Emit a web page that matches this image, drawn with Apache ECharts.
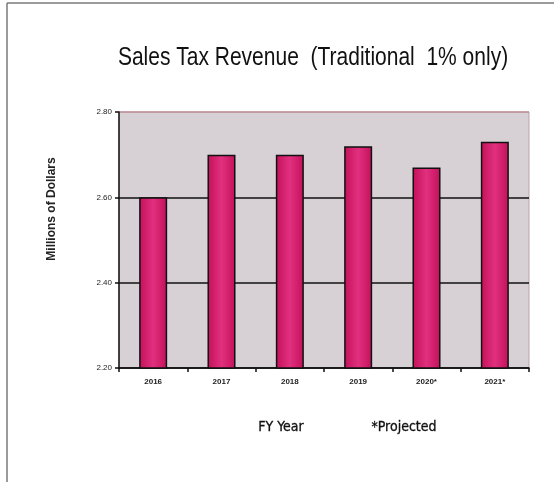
<!DOCTYPE html>
<html>
<head>
<meta charset="utf-8">
<script src="https://cdn.jsdelivr.net/npm/echarts@6/dist/echarts.min.js"></script>
<style>
  html, body { margin: 0; padding: 0; background: #ffffff; }
  #chart { width: 554px; height: 482px; }
</style>
</head>
<body>
<div id="chart"></div>
<script>
// Fiscal years and revenue (millions of dollars)
const years = ['2016', '2017', '2018', '2019', '2020*', '2021*'];
const revenue = [2.60, 2.70, 2.70, 2.72, 2.67, 2.73];
const yTicks = [2.20, 2.40, 2.60, 2.80];

const chart = echarts.init(document.getElementById('chart'), null, { renderer: 'canvas' });

const barFill = new echarts.graphic.LinearGradient(0, 0, 1, 0, [
  { offset: 0, color: '#c4105a' },
  { offset: 0.5, color: '#e0307e' },
  { offset: 1, color: '#c4105a' }
]);

chart.setOption({
  animation: false,
  backgroundColor: '#ffffff',
  grid: {
    left: 119,
    right: 25,
    top: 112,
    bottom: 114,
    show: true,
    backgroundColor: '#d7d1d6',
    borderColor: '#b9a3aa',
    borderWidth: 1
  },
  xAxis: {
    type: 'category',
    data: years,
    axisLine: { lineStyle: { color: '#111111', width: 1.5 } },
    axisTick: { show: true, length: 4, lineStyle: { color: '#111111', width: 1.5 } },
    axisLabel: {
      margin: 10,
      fontFamily: 'Liberation Sans, Arial, sans-serif',
      fontSize: 8,
      fontWeight: 'bold',
      color: '#222222'
    }
  },
  yAxis: {
    type: 'value',
    min: yTicks[0],
    max: yTicks[yTicks.length - 1],
    interval: 0.2,
    axisLine: { show: true, lineStyle: { color: '#111111', width: 1.5 } },
    axisTick: { show: true, length: 4, lineStyle: { color: '#111111', width: 1.5 } },
    axisLabel: {
      margin: 7,
      fontFamily: 'Liberation Sans, Arial, sans-serif',
      fontSize: 8,
      color: '#222222',
      formatter: v => v.toFixed(2)
    },
    splitLine: {
      show: true,
      lineStyle: { color: ['#111111', '#111111', '#111111', '#c08f99'], width: 1.5 }
    }
  },
  series: [{
    type: 'bar',
    data: revenue,
    barWidth: '41%',
    itemStyle: {
      color: barFill,
      borderColor: '#111111',
      borderWidth: 1.5
    }
  }],
  graphic: [
    // outer page frame
    { type: 'line', shape: { x1: 7, y1: 3, x2: 554, y2: 3 }, style: { stroke: '#7a7a7a', lineWidth: 1.5 } },
    { type: 'line', shape: { x1: 7, y1: 3, x2: 7, y2: 482 }, style: { stroke: '#7a7a7a', lineWidth: 1.5 } },
    // chart title, horizontally condensed
    {
      type: 'text',
      x: 313,
      y: 58,
      scaleX: 0.84,
      scaleY: 1,
      style: {
        text: 'Sales Tax Revenue  (Traditional  1% only)',
        font: '25px "Liberation Sans", Arial, sans-serif',
        fill: '#111111',
        textAlign: 'center',
        textVerticalAlign: 'middle'
      }
    },
    {
      type: 'text',
      x: 52,
      y: 209,
      rotation: Math.PI / 2,
      style: {
        text: 'Millions of Dollars',
        font: 'bold 12px "Liberation Sans", Arial, sans-serif',
        fill: '#222222',
        textAlign: 'center',
        textVerticalAlign: 'middle'
      }
    },
    {
      type: 'text',
      x: 281,
      y: 427,
      style: {
        text: 'FY Year',
        font: '14px "DejaVu Sans Condensed", "DejaVu Sans", sans-serif',
        fill: '#111111',
        stroke: '#111111',
        lineWidth: 0.3,
        textAlign: 'center',
        textVerticalAlign: 'middle'
      }
    },
    {
      type: 'text',
      x: 404,
      y: 427,
      style: {
        text: '*Projected',
        font: '14px "DejaVu Sans Condensed", "DejaVu Sans", sans-serif',
        fill: '#111111',
        stroke: '#111111',
        lineWidth: 0.3,
        textAlign: 'center',
        textVerticalAlign: 'middle'
      }
    }
  ]
});
</script>
</body>
</html>
